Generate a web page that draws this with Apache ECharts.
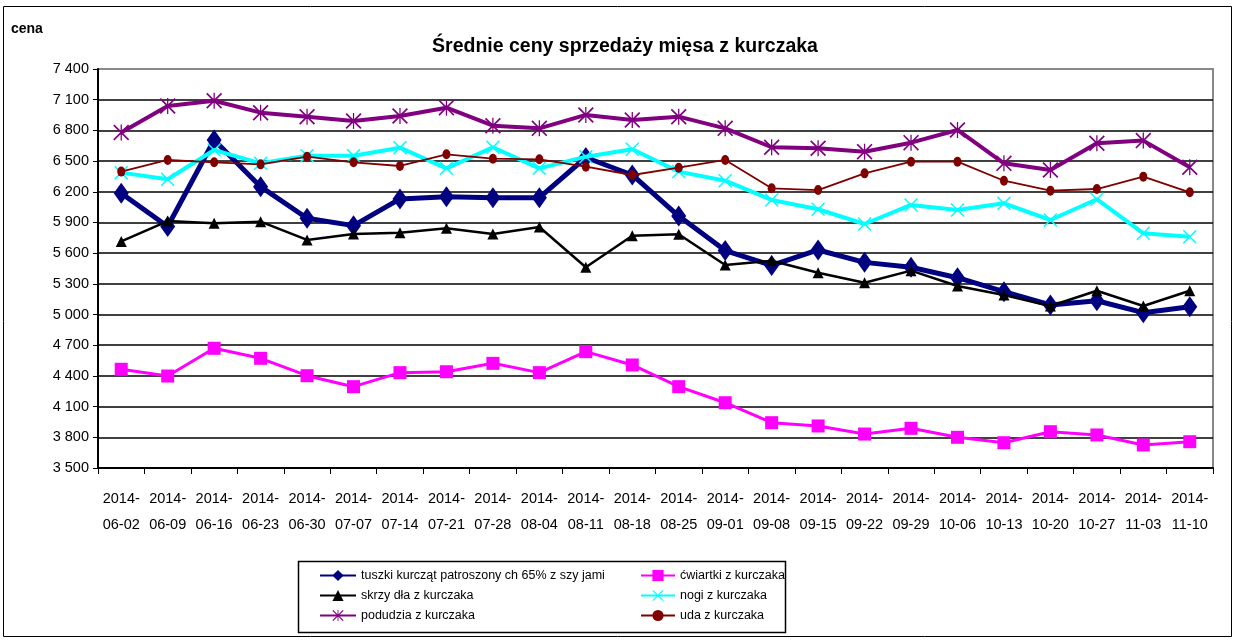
<!DOCTYPE html>
<html><head><meta charset="utf-8">
<script src="https://cdn.jsdelivr.net/npm/echarts@6/dist/echarts.min.js"></script>
<style>html,body{margin:0;padding:0;background:#fff}#c{width:1235px;height:641px}</style>
</head><body><div id="c"></div>
<script>
const categories = ['2014-06-02','2014-06-09','2014-06-16','2014-06-23','2014-06-30','2014-07-07','2014-07-14','2014-07-21','2014-07-28','2014-08-04','2014-08-11','2014-08-18','2014-08-25','2014-09-01','2014-09-08','2014-09-15','2014-09-22','2014-09-29','2014-10-06','2014-10-13','2014-10-20','2014-10-27','2014-11-03','2014-11-10'];
const tuszki   = [6185,5860,6706,6250,5941,5869,6130,6152,6142,6142,6535,6364,5963,5625,5480,5631,5510,5462,5360,5223,5093,5135,5018,5077];
const cwiartki = [4465,4399,4670,4572,4402,4295,4432,4441,4523,4432,4637,4507,4295,4138,3943,3911,3832,3888,3800,3747,3855,3823,3725,3757];
const skrzydla = [5715,5914,5892,5908,5729,5787,5800,5843,5787,5855,5462,5770,5785,5484,5526,5409,5311,5429,5279,5191,5084,5233,5084,5233];
const nogi     = [6387,6322,6608,6478,6553,6553,6631,6429,6635,6429,6543,6615,6397,6308,6120,6029,5885,6071,6022,6087,5924,6127,5794,5761];
const podudzia = [6780,7039,7090,6973,6934,6892,6941,7022,6846,6820,6951,6902,6934,6820,6635,6625,6592,6680,6804,6478,6413,6674,6700,6439];
const uda      = [6397,6511,6488,6468,6543,6488,6452,6566,6523,6517,6445,6364,6435,6511,6234,6217,6380,6494,6494,6308,6211,6227,6348,6195];
const seriesNames = ['tuszki kurcząt patroszony ch 65% z szy jami','ćwiartki z kurczaka','skrzy dła z kurczaka','nogi z kurczaka','podudzia z kurczaka','uda z kurczaka'];
const yMin = 3500, yMax = 7400, yStep = 300;
const titleText = 'Średnie ceny sprzedaży mięsa z kurczaka';
const yAxisName = 'cena';

const FONT = '"Liberation Sans", Arial, sans-serif';
const xPath = 'path://M0,1.5L1.5,0L10,8.5L18.5,0L20,1.5L11.5,10L20,18.5L18.5,20L10,11.5L1.5,20L0,18.5L8.5,10Z';
const astPath = 'path://M0,1.5L1.5,0L10,8.5L18.5,0L20,1.5L11.5,10L20,18.5L18.5,20L10,11.5L1.5,20L0,18.5L8.5,10Z M9.2,0L10.8,0L10.8,20L9.2,20Z';

function fmt(v){ const s = String(v); return s.length > 3 ? s.slice(0, s.length-3) + ' ' + s.slice(-3) : s; }

const chart = echarts.init(document.getElementById('c'), null, {renderer:'canvas'});
function mk(name, data, color, width, symbol, size, z){
  return {name, type:'line', data, z, symbol, symbolSize:size, showSymbol:true,
    lineStyle:{color, width}, itemStyle:{color, borderWidth:0}, emphasis:{disabled:true}, animation:false};
}
const legendText = {fontSize:12.5, color:'#000', fontFamily:FONT};
chart.setOption({
  animation:false,
  textStyle:{fontFamily:FONT},
  title:{text:titleText, left:620, textAlign:'center', top:32, textStyle:{fontSize:19.5, fontWeight:'bold', color:'#000', fontFamily:FONT}},
  grid:{left:98, right:22, top:69, bottom:173, show:true, borderColor:'#888', borderWidth:2, backgroundColor:'#fff'},
  legend:[
    {orient:'vertical', left:314, top:564, itemWidth:36, itemHeight:14, itemGap:7, data:[seriesNames[0],seriesNames[2],seriesNames[4]], textStyle:legendText, selectedMode:false},
    {orient:'vertical', left:635, top:564, itemWidth:34, itemHeight:14, itemGap:7, data:[seriesNames[1],seriesNames[3],seriesNames[5]], textStyle:legendText, selectedMode:false}
  ],
  graphic:[
    {type:'rect', shape:{x:3.5, y:6.5, width:1228, height:630}, style:{fill:null, stroke:'#000', lineWidth:1}, silent:true, z:-10},
    {type:'rect', shape:{x:298.5, y:561.5, width:487, height:71}, style:{fill:null, stroke:'#000', lineWidth:1.5}, silent:true},
    {type:'text', left:11, top:22, style:{text:yAxisName, font:'bold 14px ' + FONT, fill:'#000'}}
  ],
  xAxis:{type:'category', data:categories, boundaryGap:true,
    axisLine:{lineStyle:{color:'#000', width:2}},
    axisTick:{show:true, interval:0, length:6, lineStyle:{color:'#000', width:1}},
    axisLabel:{interval:0, margin:18, fontSize:14.5, lineHeight:26, color:'#000', fontFamily:FONT,
      formatter:v => v.slice(0,5) + '\n' + v.slice(5)},
    splitLine:{show:false}},
  yAxis:{type:'value', min:yMin, max:yMax, interval:yStep,
    axisLine:{show:true, lineStyle:{color:'#000', width:2}},
    axisTick:{show:true, length:5, lineStyle:{color:'#000', width:1}},
    axisLabel:{fontSize:14.5, color:'#000', margin:9, fontFamily:FONT, formatter:v => fmt(v)},
    splitLine:{show:true, showMaxLine:false, lineStyle:{color:'#000', width:1.5}}},
  series:[
    mk(seriesNames[0], tuszki, '#000080', 5, 'diamond', [15,21], 2),
    mk(seriesNames[1], cwiartki, '#FF00FF', 3, 'rect', 13, 3),
    mk(seriesNames[2], skrzydla, '#000000', 2.5, 'triangle', [11,11], 4),
    mk(seriesNames[3], nogi, '#00FFFF', 4, xPath, 14, 5),
    mk(seriesNames[4], podudzia, '#800080', 4, astPath, 16, 6),
    mk(seriesNames[5], uda, '#800000', 1.8, 'circle', [8,10], 7)
  ]
});
</script></body></html>
